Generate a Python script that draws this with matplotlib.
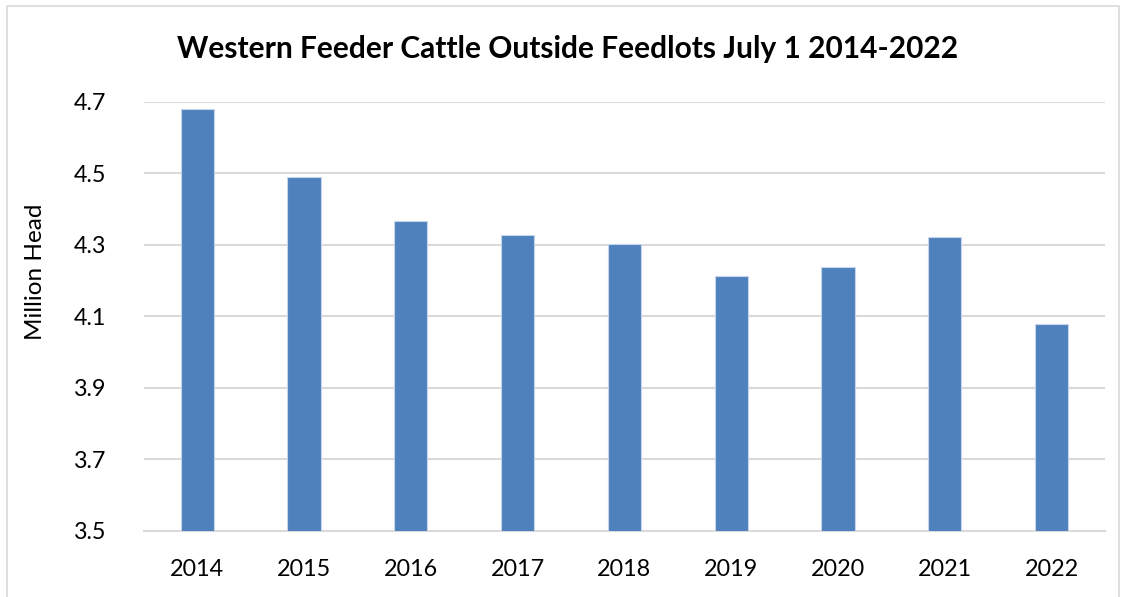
import matplotlib.pyplot as plt
from matplotlib.patches import Rectangle
import numpy as np

years = ['2014', '2015', '2016', '2017', '2018', '2019', '2020', '2021', '2022']
million_head = [4.679, 4.489, 4.366, 4.328, 4.302, 4.212, 4.238, 4.322, 4.080]
y_ticks = [3.5, 3.7, 3.9, 4.1, 4.3, 4.5, 4.7]

plt.rcParams['font.family'] = ['Lato', 'DejaVu Sans']

fig = plt.figure(figsize=(11.23, 5.97), dpi=100)
ax = fig.add_axes([0.128, 0.1106, 0.856, 0.7186])

grid_color = '#d9d9d9'
x = np.arange(len(years))
ax.bar(x, million_head, width=0.31, color='#4f81bd', edgecolor='#c6d5ea', linewidth=0.8, zorder=3)

ax.set_xlim(-0.5, len(years) - 0.5)
ax.set_ylim(3.5, 4.7)
ax.set_yticks(y_ticks)
ax.set_yticklabels([f'{v:.1f}' for v in y_ticks])
ax.set_xticks(x)
ax.set_xticklabels(years)
ax.yaxis.grid(True, color=grid_color, linewidth=1.5, zorder=0)
ax.tick_params(axis='y', length=0, pad=27, labelsize=16.8)
ax.tick_params(axis='x', length=0, pad=20, labelsize=16.8)
for side in ['left', 'right', 'top']:
    ax.spines[side].set_visible(False)
ax.spines['bottom'].set_color(grid_color)
ax.spines['bottom'].set_linewidth(1.5)

ax.set_ylabel('Million Head', fontsize=17.5)
ax.yaxis.set_label_coords(-0.102, 0.604)
fig.text(0.505, 0.918, 'Western Feeder Cattle Outside Feedlots July 1 2014-2022',
         ha='center', va='center', fontsize=21.5, fontweight='bold')

# light frame around the chart, as in the spreadsheet export
fig.patches.append(Rectangle((0.006, -0.01), 0.99, 1.0, transform=fig.transFigure,
                             fill=False, edgecolor='#d9d9d9', linewidth=1.2))

fig.savefig('out.png', dpi=100)
